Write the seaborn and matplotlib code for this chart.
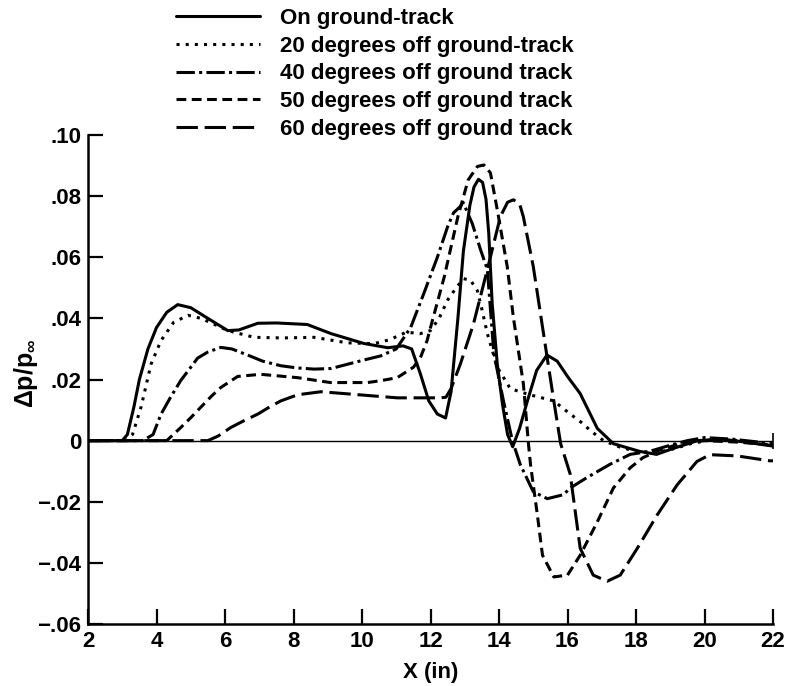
import numpy as np
import matplotlib
matplotlib.use("Agg")
import matplotlib.pyplot as plt
import pandas as pd
import seaborn as sns

# %% digitised curves -------------------------------------------
labels = ["On ground-track",
          "20 degrees off ground-track",
          "40 degrees off ground track",
          "50 degrees off ground track",
          "60 degrees off ground track"]

x_on = [2, 3.0, 3.15, 3.34, 3.5, 3.75, 4.0, 4.3, 4.62, 5.0, 5.5, 6.08, 6.4, 6.96, 7.5,
        8.4, 9.1, 10.05, 10.75, 11.2, 11.45, 11.7, 11.95, 12.2, 12.44, 12.6, 12.8, 12.96,
        13.15, 13.27, 13.4, 13.52, 13.62, 13.7, 13.8, 13.95, 14.1, 14.25, 14.4, 14.6, 14.83,
        15.1, 15.4, 15.7, 16.0, 16.37, 16.87, 17.34, 18.1, 18.6, 19.1, 19.8, 20.5, 21.2, 22]
y_on = [0, 0, 0.002, 0.011, 0.020, 0.030, 0.037, 0.042, 0.0445, 0.0435, 0.040, 0.036,
        0.0362, 0.0384, 0.0385, 0.038, 0.035, 0.0318, 0.0304, 0.031, 0.030, 0.022, 0.013,
        0.0087, 0.0074, 0.016, 0.040, 0.062, 0.077, 0.083, 0.0855, 0.0845, 0.079, 0.068,
        0.045, 0.025, 0.012, 0.002, -0.002, 0.004, 0.013, 0.023, 0.028, 0.026, 0.021,
        0.0154, 0.004, -0.001, -0.0035, -0.0045, -0.0025, 0.0, 0.0005, -0.0005, -0.0018]

x_20 = [2, 3.1, 3.3, 3.55, 3.84, 4.13, 4.5, 4.92, 5.3, 5.7, 6.08, 6.85, 7.7, 8.6, 9.57,
        10.35, 10.8, 11.3, 11.7, 12.0, 12.25, 12.5, 12.75, 12.96, 13.17, 13.37, 13.5,
        13.66, 13.95, 14.33, 14.9, 15.6, 16.08, 16.4, 16.7, 17.05, 17.5, 18.0, 18.5,
        19.0, 19.6, 20.3, 21.0, 22]
y_20 = [0, 0, 0.002, 0.011, 0.025, 0.0327, 0.0387, 0.041, 0.040, 0.038, 0.036, 0.0338,
        0.0336, 0.0338, 0.032, 0.0317, 0.033, 0.0355, 0.035, 0.036, 0.040, 0.046, 0.050,
        0.053, 0.0525, 0.049, 0.043, 0.035, 0.024, 0.017, 0.015, 0.013, 0.0087, 0.006,
        0.003, 0.0, -0.002, -0.0035, -0.004, -0.003, -0.001, 0.0005, 0.0, -0.0015]

x_40 = [2, 3.6, 3.9, 4.13, 4.4, 4.71, 5.0, 5.2, 5.5, 5.88, 6.2, 6.66, 7.1, 7.63, 8.1,
        8.6, 9.1, 9.58, 10.1, 10.54, 11.0, 11.42, 11.8, 12.2, 12.5, 12.67, 12.87, 12.95,
        13.22, 13.46, 13.66, 13.85, 14.13, 14.39, 14.62, 15.0, 15.41, 15.88, 16.08, 16.58,
        17.25, 17.83, 18.4, 19.0, 19.5, 20.0, 20.8, 22]
y_40 = [0, 0, 0.002, 0.0086, 0.014, 0.0197, 0.024, 0.027, 0.029, 0.0305, 0.030, 0.028,
        0.026, 0.0245, 0.0238, 0.0234, 0.0236, 0.025, 0.0265, 0.0277, 0.030, 0.037,
        0.048, 0.060, 0.070, 0.0745, 0.0766, 0.078, 0.071, 0.0625, 0.056, 0.0285, 0.013,
        0.0, -0.0078, -0.0167, -0.019, -0.0177, -0.0155, -0.012, -0.0077, -0.0045,
        -0.0035, -0.0015, 0.0, 0.001, 0.0005, -0.001]

x_50 = [2, 4.3, 4.71, 5.0, 5.3, 5.6, 5.88, 6.37, 7.04, 8.12, 9.08, 10.16, 10.54, 11.03,
        11.5, 11.7, 11.9, 12.0, 12.4, 12.8, 13.1, 13.37, 13.56, 13.75, 13.95, 14.24, 14.42,
        14.71, 14.86, 14.92, 15.12, 15.27, 15.6, 16.0, 16.37, 16.87, 17.34, 17.83, 18.2,
        18.7, 19.3, 20.0, 21.0, 22]
y_50 = [0, 0, 0.0043, 0.0075, 0.011, 0.0145, 0.0174, 0.021, 0.0217, 0.0206, 0.019,
        0.019, 0.0196, 0.0206, 0.024, 0.027, 0.0327, 0.037, 0.0535, 0.0733, 0.0853,
        0.0897, 0.0902, 0.0876, 0.0755, 0.057, 0.0403, 0.0187, -0.001, -0.0078, -0.0243,
        -0.0375, -0.0446, -0.044, -0.0375, -0.0266, -0.0155, -0.0089, -0.0056, -0.003,
        -0.001, 0.0, -0.0005, -0.0015]

x_60 = [2, 5.5, 5.8, 6.17, 6.55, 6.96, 7.3, 7.63, 8.12, 8.8, 9.58, 11.03, 12.3, 12.45,
        12.6, 12.87, 13.25, 13.66, 14.04, 14.25, 14.42, 14.6, 14.71, 15.0, 15.3, 15.6, 15.8,
        16.08, 16.37, 16.75, 17.16, 17.54, 18.04, 18.62, 19.2, 19.78, 20.16, 20.95, 21.9, 22]
y_60 = [0, 0, 0.0015, 0.0043, 0.0065, 0.0087, 0.011, 0.013, 0.015, 0.016, 0.0153, 0.014,
        0.014, 0.0142, 0.017, 0.025, 0.038, 0.056, 0.0733, 0.078, 0.0788, 0.0775, 0.0733,
        0.057, 0.035, 0.013, -0.001, -0.011, -0.0352, -0.044, -0.046, -0.044, -0.0352,
        -0.0243, -0.0145, -0.0068, -0.0046, -0.005, -0.0066, -0.0066]

x_ticks = [2, 4, 6, 8, 10, 12, 14, 16, 18, 20, 22]
y_ticks = [-0.06, -0.04, -0.02, 0, 0.02, 0.04, 0.06, 0.08, 0.10]
y_ticklabels = ["\u2212.06", "\u2212.04", "\u2212.02", "0", ".02", ".04", ".06", ".08", ".10"]

# %% long-form frame for seaborn ---------------------------------
xs = [x_on, x_20, x_40, x_50, x_60]
ys = [y_on, y_20, y_40, y_50, y_60]
df = pd.concat([pd.DataFrame({"x": a, "y": b, "case": lab})
                for a, b, lab in zip(xs, ys, labels)], ignore_index=True)

sns.set_style("ticks", {"axes.edgecolor": "black", "text.color": "black",
                        "axes.labelcolor": "black", "xtick.color": "black",
                        "ytick.color": "black"})
plt.rcParams['font.family'] = ['Liberation Sans', 'DejaVu Sans']
plt.rcParams['font.weight'] = 'bold'
plt.rcParams['mathtext.default'] = 'regular'

dash_map = {labels[0]: "",
            labels[1]: (1, 2),
            labels[2]: (6, 1.4, 1, 1.4),
            labels[3]: (3.2, 1.8),
            labels[4]: (7, 2.2)}

fig = plt.figure(figsize=(7.86, 6.86), dpi=100)
ax = fig.add_axes([88/786, 1 - 624/686, (773 - 88)/786, (624 - 135)/686])

# zero reference line with end tick
ax.plot([2, 22], [0, 0], color='k', lw=1.0, marker='|', markevery=[1], ms=11, mew=1.2)

sns.lineplot(data=df, x="x", y="y", style="case", dashes=dash_map, color='k',
             lw=2.2, estimator=None, sort=False, ax=ax, legend=True)

ax.set_xlim(2, 22)
ax.set_ylim(-0.06, 0.10)
ax.set_xticks(x_ticks)
ax.set_xticklabels([str(t) for t in x_ticks])
ax.set_yticks(y_ticks)
ax.set_yticklabels(y_ticklabels)
ax.tick_params(direction='in', length=11, width=1.6, labelsize=16, pad=5, colors='black')
for s in ['top', 'right']:
    ax.spines[s].set_visible(False)
for s in ['left', 'bottom']:
    ax.spines[s].set_linewidth(1.8)
    ax.spines[s].set_color('black')

ax.set_xlabel("X (in)", fontsize=16, fontweight='bold', labelpad=7, color='black')
ax.set_ylabel("\u0394p/p$_\\infty$", fontsize=18, fontweight='bold', color='black')
ax.yaxis.set_label_coords(-0.07, 0.513)

handles, labs = ax.get_legend_handles_labels()
ax.get_legend().remove()
fig.legend(handles, labs, loc='upper left', bbox_to_anchor=(176/786, 1 - 8/686),
           frameon=False, fontsize=16, handlelength=3.8, handletextpad=0.9,
           labelspacing=0.3, borderpad=0, borderaxespad=0, labelcolor='black')

fig.savefig('out.png', dpi=100)
